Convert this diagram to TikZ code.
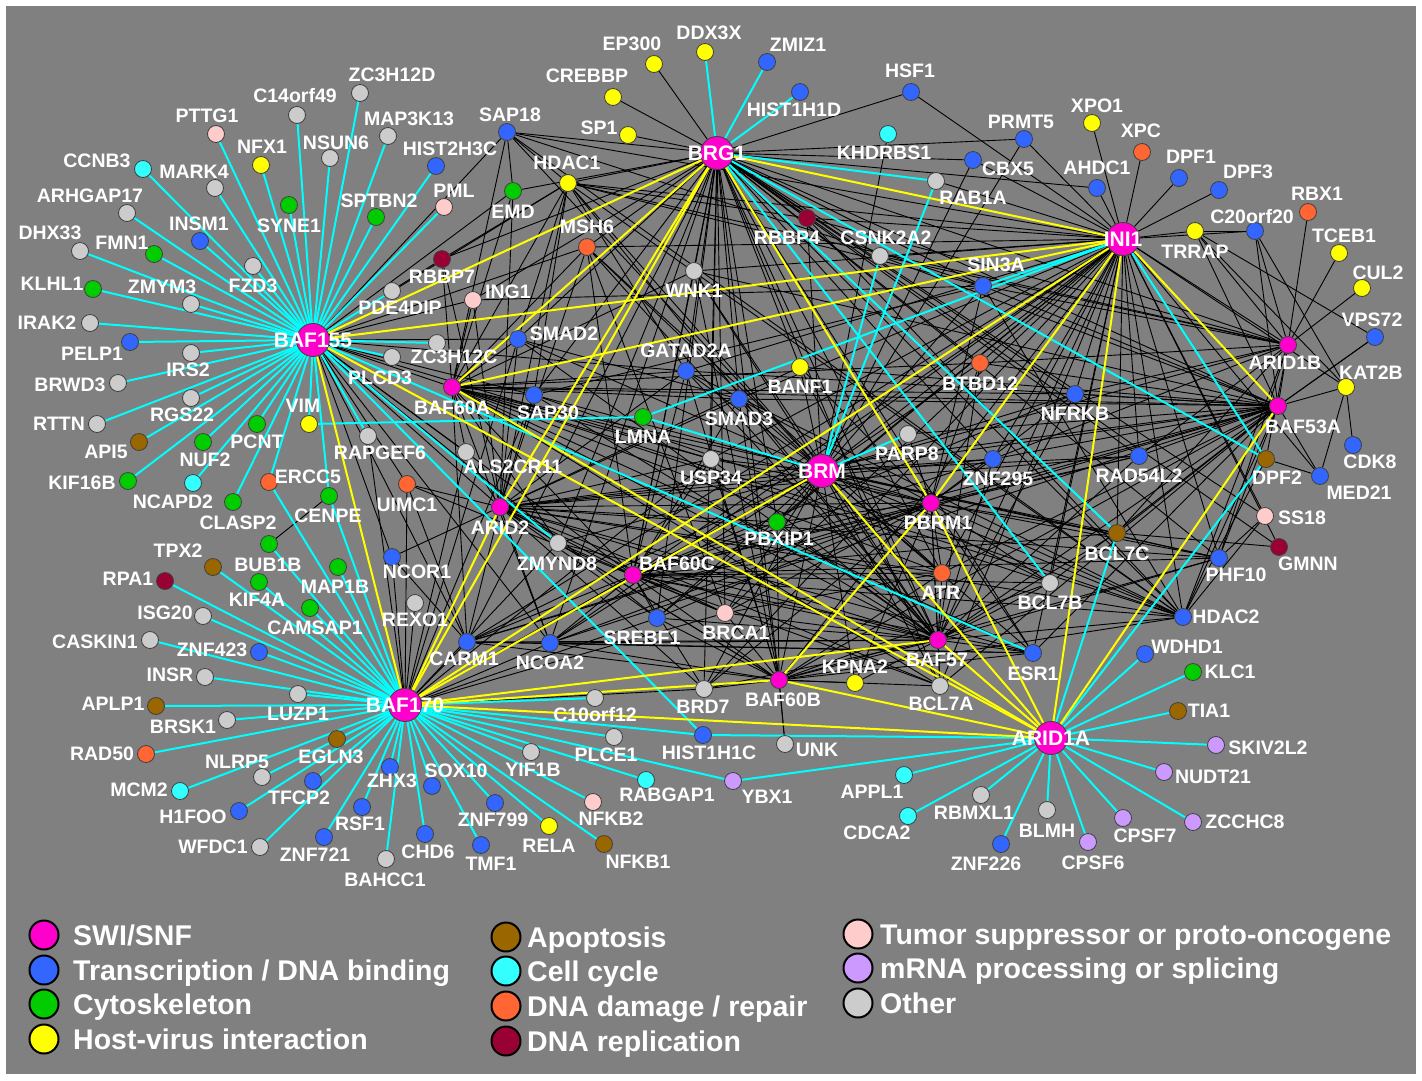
\documentclass[tikz,border=0pt]{standalone}
\usepackage{fontspec}
\setmainfont{Liberation Sans}
\definecolor{bggray}{RGB}{128,128,128}
\definecolor{cmag}{RGB}{255,0,204}
\definecolor{cblue}{RGB}{51,102,255}
\definecolor{cgreen}{RGB}{0,204,0}
\definecolor{cyel}{RGB}{255,255,0}
\definecolor{cbrown}{RGB}{153,102,0}
\definecolor{ccyan}{RGB}{51,255,255}
\definecolor{corange}{RGB}{255,102,51}
\definecolor{cdred}{RGB}{153,0,51}
\definecolor{cpink}{RGB}{255,204,204}
\definecolor{clav}{RGB}{204,153,255}
\definecolor{cgray}{RGB}{204,204,204}
\definecolor{ecyan}{RGB}{0,255,255}
\definecolor{eyel}{RGB}{255,255,0}
\pgfdeclarelayer{bg}
\pgfdeclarelayer{edges}
\pgfsetlayers{bg,edges,main}
\newcommand\gnode[6]{\node[nd,fill=#2] (#1) at (#3,#4) {};\node[lbl] (#1-l) at (#5,#6) {#1};}
\newcommand\mnode[5]{\node[nd,fill=cmag] (#1) at (#2,#3) {};\node[lbl] (#1-l) at (#4,#5) {#1};}
\newcommand\hnode[3]{\node[hubnd] (#1) at (#2,#3) {};\node[hublbl] (#1-l) at (#2,#3) {#1};}
\newcommand\legitem[6]{\node[lgc,fill=#1] (#2) at (#3,#4) {};\node[lgt] (#2-t) at (#5,#4+10) {#6};}
\newcommand\fan[3]{\foreach \t in {#3} {\draw[#1] (#2) -- (\t);}}
\begin{document}
\begin{tikzpicture}[x=1pt,y=-1pt,
  nd/.style={circle,draw=black!75,line width=0.8pt,minimum size=17pt,inner sep=0pt},
  hubnd/.style={circle,draw=black!75,line width=0.8pt,minimum size=33pt,inner sep=0pt,fill=cmag},
  lbl/.style={text=white,inner sep=0pt,font=\bfseries\fontsize{19.5}{20}\selectfont},
  hublbl/.style={text=white,inner sep=0pt,font=\bfseries\fontsize{21}{22}\selectfont},
  bk/.style={draw=black,line width=0.9pt},
  cy/.style={draw=ecyan,line width=2pt},
  yl/.style={draw=eyel,line width=2pt},
  lgc/.style={circle,draw=black,line width=2pt,minimum size=29pt,inner sep=0pt},
  lgt/.style={text=white,inner sep=0pt,anchor=base west,font=\bfseries\fontsize{28.5}{30}\selectfont}]
\useasboundingbox (0,0) rectangle (1422,1080);
\begin{pgfonlayer}{bg}
\fill[white] (0,0) rectangle (1422,1080);
\fill[bggray] (6,6) rectangle (1416,1074);
\end{pgfonlayer}
% hubs
\hnode{BRG1}{717}{153}
\hnode{INI1}{1123}{239}
\hnode{BAF155}{313}{340}
\hnode{BRM}{822}{471}
\hnode{BAF170}{405}{705}
\hnode{ARID1A}{1051}{738}
% small SWI/SNF
\mnode{ARID1B}{1288}{345}{1285}{363}
\mnode{BAF53A}{1278}{406}{1303}{427}
\mnode{BAF60A}{452}{387}{452}{408}
\mnode{BAF60B}{779}{680}{783}{700}
\mnode{BAF60C}{633}{575}{677}{564}
\mnode{BAF57}{938}{640}{937}{660}
\mnode{ARID2}{500}{507}{500}{528}
\mnode{PBRM1}{931}{503}{938}{523}
% left / BAF155 side
\gnode{ZC3H12D}{cgray}{360}{93}{392}{75}
\gnode{C14orf49}{cgray}{297}{115}{295}{96}
\gnode{PTTG1}{cpink}{216}{134}{207}{116}
\gnode{MAP3K13}{cgray}{388}{136}{409}{119}
\gnode{NFX1}{cyel}{261}{165}{262}{147}
\gnode{NSUN6}{cgray}{330}{158}{336}{143}
\gnode{HIST2H3C}{cblue}{436}{166}{450}{149}
\gnode{CCNB3}{ccyan}{143}{169}{97}{161}
\gnode{MARK4}{cgray}{215}{188}{194}{172}
\gnode{SYNE1}{cgreen}{289}{205}{289}{226}
\gnode{SPTBN2}{cgreen}{376}{217}{379}{201}
\gnode{PML}{cpink}{444}{207}{454}{191}
\gnode{ARHGAP17}{cgray}{127}{213}{90}{196}
\gnode{INSM1}{cblue}{200}{241}{199}{224}
\gnode{DHX33}{cgray}{80}{251}{50}{233}
\gnode{FMN1}{cgreen}{154}{254}{122}{243}
\gnode{FZD3}{cgray}{253}{266}{253}{286}
\gnode{RBBP7}{cdred}{442}{259}{442}{277}
\gnode{KLHL1}{cgreen}{93}{289}{52}{284}
\gnode{ZMYM3}{cgray}{191}{304}{162}{287}
\gnode{PDE4DIP}{cgray}{392}{291}{400}{308}
\gnode{IRAK2}{cgray}{90}{323}{47}{323}
\gnode{PELP1}{cblue}{130}{342}{92}{354}
\gnode{IRS2}{cgray}{191}{353}{188}{370}
\gnode{ZC3H12C}{cgray}{437}{343}{454}{357}
\gnode{PLCD3}{cgray}{392}{357}{380}{378}
\gnode{BRWD3}{cgray}{118}{383}{70}{385}
\gnode{RGS22}{cgray}{191}{398}{182}{415}
\gnode{VIM}{cyel}{309}{424}{303}{406}
\gnode{RTTN}{cgray}{97}{424}{59}{424}
\gnode{PCNT}{cgreen}{257}{424}{257}{442}
\gnode{RAPGEF6}{cgray}{368}{436}{380}{453}
\gnode{API5}{cbrown}{139}{442}{106}{452}
\gnode{NUF2}{cgreen}{203}{442}{205}{460}
\gnode{KIF16B}{cgreen}{128}{481}{82}{483}
\gnode{NCAPD2}{ccyan}{193}{483}{173}{502}
\gnode{ERCC5}{corange}{269}{482}{308}{477}
\gnode{CLASP2}{cgreen}{233}{502}{238}{523}
\gnode{CENPE}{cgreen}{329}{496}{328}{516}
\gnode{UIMC1}{corange}{407}{484}{407}{505}
\gnode{BUB1B}{cgreen}{269}{544}{268}{565}
\gnode{TPX2}{cbrown}{213}{567}{178}{551}
\gnode{RPA1}{cdred}{165}{581}{128}{579}
\gnode{MAP1B}{cgreen}{338}{567}{335}{587}
\gnode{KIF4A}{cgreen}{259}{582}{257}{600}
\gnode{NCOR1}{cblue}{392}{557}{417}{572}
\gnode{CAMSAP1}{cgreen}{310}{608}{315}{628}
\gnode{ISG20}{cgray}{203}{616}{165}{613}
\gnode{REXO1}{cgray}{415}{603}{415}{620}
\gnode{CASKIN1}{cgray}{150}{640}{95}{642}
\gnode{CARM1}{cblue}{467}{642}{464}{659}
\gnode{ZNF423}{cblue}{259}{652}{212}{650}
\gnode{INSR}{cgray}{205}{677}{170}{675}
\gnode{LUZP1}{cgray}{298}{694}{298}{714}
\gnode{APLP1}{cbrown}{156}{706}{113}{704}
\gnode{BRSK1}{cgray}{227}{720}{183}{727}
\gnode{EGLN3}{cbrown}{337}{739}{331}{757}
\gnode{RAD50}{corange}{146}{754}{102}{754}
\gnode{NLRP5}{cgray}{262}{777}{237}{762}
\gnode{ZHX3}{cblue}{390}{767}{392}{781}
\gnode{SOX10}{cblue}{432}{786}{456}{771}
\gnode{MCM2}{ccyan}{180}{791}{139}{790}
\gnode{TFCP2}{cblue}{313}{781}{299}{798}
\gnode{H1FOO}{cblue}{239}{811}{193}{817}
\gnode{RSF1}{cblue}{362}{807}{360}{824}
\gnode{WFDC1}{cgray}{260}{847}{213}{847}
\gnode{ZNF721}{cblue}{324}{837}{315}{855}
\gnode{CHD6}{cblue}{425}{834}{428}{852}
\gnode{BAHCC1}{cgray}{386}{859}{385}{880}
% top / middle
\gnode{EP300}{cyel}{654}{64}{632}{44}
\gnode{DDX3X}{cyel}{705}{52}{709}{33}
\gnode{ZMIZ1}{cblue}{767}{62}{798}{45}
\gnode{CREBBP}{cyel}{613}{97}{587}{76}
\gnode{HSF1}{cblue}{911}{92}{910}{71}
\gnode{HIST1H1D}{cblue}{800}{92}{794}{110}
\gnode{SAP18}{cblue}{507}{132}{510}{115}
\gnode{SP1}{cyel}{628}{135}{599}{128}
\gnode{KHDRBS1}{ccyan}{888}{134}{884}{153}
\gnode{HDAC1}{cyel}{568}{183}{567}{163}
\gnode{EMD}{cgreen}{513}{191}{513}{212}
\gnode{RAB1A}{cgray}{936}{181}{973}{198}
\gnode{RBBP4}{cdred}{807}{218}{787}{238}
\gnode{MSH6}{corange}{587}{247}{587}{227}
\gnode{CSNK2A2}{cgray}{880}{256}{886}{238}
\gnode{WNK1}{cgray}{694}{271}{694}{291}
\gnode{ING1}{cpink}{473}{300}{508}{292}
\gnode{SMAD2}{cblue}{518}{339}{564}{334}
\gnode{GATAD2A}{cblue}{686}{371}{686}{351}
\gnode{BANF1}{cyel}{800}{367}{800}{387}
\gnode{SAP30}{cblue}{534}{395}{548}{413}
\gnode{SMAD3}{cblue}{739}{399}{739}{419}
\gnode{LMNA}{cgreen}{643}{417}{643}{437}
\gnode{ALS2CR11}{cgray}{466}{452}{513}{467}
\gnode{USP34}{cgray}{711}{459}{711}{478}
\gnode{PARP8}{cgray}{908}{434}{907}{454}
\gnode{PBXIP1}{cgreen}{777}{522}{779}{539}
\gnode{ZMYND8}{cgray}{558}{543}{557}{564}
\gnode{ATR}{corange}{942}{573}{941}{593}
\gnode{SREBF1}{cblue}{657}{618}{642}{638}
\gnode{BRCA1}{cpink}{725}{613}{736}{633}
\gnode{NCOA2}{cblue}{550}{643}{550}{663}
\gnode{KPNA2}{cyel}{855}{683}{855}{667}
\gnode{BRD7}{cgray}{704}{689}{703}{707}
\gnode{BCL7A}{cgray}{940}{686}{941}{704}
\gnode{C10orf12}{cgray}{595}{698}{595}{715}
\gnode{HIST1H1C}{cblue}{703}{735}{709}{753}
\gnode{UNK}{cgray}{785}{744}{817}{750}
\gnode{PLCE1}{cgray}{614}{737}{606}{755}
\gnode{YIF1B}{cgray}{531}{752}{533}{770}
\gnode{RABGAP1}{ccyan}{646}{780}{667}{795}
\gnode{YBX1}{clav}{733}{781}{767}{797}
\gnode{APPL1}{ccyan}{904}{775}{872}{792}
\gnode{CDCA2}{ccyan}{908}{816}{877}{833}
\gnode{ZNF799}{cblue}{495}{803}{493}{820}
\gnode{NFKB2}{cpink}{593}{802}{611}{819}
\gnode{RELA}{cyel}{549}{826}{549}{846}
\gnode{TMF1}{cblue}{481}{845}{491}{864}
\gnode{NFKB1}{cbrown}{604}{844}{638}{862}
% right
\gnode{XPO1}{cyel}{1092}{123}{1097}{106}
\gnode{PRMT5}{cblue}{1024}{139}{1021}{122}
\gnode{XPC}{corange}{1142}{152}{1141}{131}
\gnode{CBX5}{cblue}{973}{160}{1008}{169}
\gnode{AHDC1}{cblue}{1097}{188}{1097}{168}
\gnode{DPF1}{cblue}{1179}{178}{1191}{157}
\gnode{DPF3}{cblue}{1219}{190}{1248}{172}
\gnode{RBX1}{corange}{1308}{212}{1317}{194}
\gnode{TRRAP}{cyel}{1195}{231}{1195}{252}
\gnode{C20orf20}{cblue}{1255}{231}{1252}{217}
\gnode{TCEB1}{cyel}{1339}{253}{1344}{236}
\gnode{CUL2}{cyel}{1362}{288}{1378}{273}
\gnode{SIN3A}{cblue}{983}{286}{996}{265}
\gnode{VPS72}{cblue}{1375}{337}{1372}{320}
\gnode{KAT2B}{cyel}{1346}{387}{1371}{373}
\gnode{BTBD12}{corange}{980}{363}{980}{384}
\gnode{NFRKB}{cblue}{1075}{394}{1075}{414}
\gnode{CDK8}{cblue}{1353}{445}{1370}{462}
\gnode{ZNF295}{cblue}{993}{459}{998}{479}
\gnode{RAD54L2}{cblue}{1139}{456}{1139}{476}
\gnode{DPF2}{cbrown}{1266}{459}{1277}{478}
\gnode{MED21}{cblue}{1320}{476}{1359}{493}
\gnode{SS18}{cpink}{1265}{516}{1302}{518}
\gnode{BCL7C}{cbrown}{1117}{533}{1117}{554}
\gnode{GMNN}{cdred}{1279}{547}{1308}{564}
\gnode{PHF10}{cblue}{1219}{558}{1236}{575}
\gnode{BCL7B}{cgray}{1050}{583}{1050}{603}
\gnode{HDAC2}{cblue}{1183}{617}{1226}{617}
\gnode{ESR1}{cblue}{1033}{653}{1033}{674}
\gnode{WDHD1}{cblue}{1145}{654}{1187}{647}
\gnode{KLC1}{cgreen}{1193}{672}{1230}{672}
\gnode{TIA1}{cbrown}{1178}{711}{1209}{711}
\gnode{SKIV2L2}{clav}{1216}{745}{1268}{748}
\gnode{NUDT21}{clav}{1164}{772}{1213}{777}
\gnode{RBMXL1}{cgray}{981}{795}{974}{813}
\gnode{BLMH}{cgray}{1047}{810}{1047}{831}
\gnode{CPSF7}{clav}{1123}{818}{1145}{836}
\gnode{ZCCHC8}{clav}{1193}{822}{1245}{822}
\gnode{ZNF226}{cblue}{1001}{844}{986}{864}
\gnode{CPSF6}{clav}{1088}{842}{1093}{863}
% legend
\legitem{cmag}{lgA}{44}{935}{73}{SWI/SNF}
\legitem{cblue}{lgB}{44}{970}{73}{Transcription / DNA binding}
\legitem{cgreen}{lgC}{44}{1004}{73}{Cytoskeleton}
\legitem{cyel}{lgD}{44}{1039}{73}{Host-virus interaction}
\legitem{cbrown}{lgE}{506}{937}{527}{Apoptosis}
\legitem{ccyan}{lgF}{506}{971}{527}{Cell cycle}
\legitem{corange}{lgG}{506}{1006}{527}{DNA damage / repair}
\legitem{cdred}{lgH}{506}{1041}{527}{DNA replication}
\legitem{cpink}{lgI}{858}{934}{880}{Tumor suppressor or proto-oncogene}
\legitem{clav}{lgJ}{858}{968}{880}{mRNA processing or splicing}
\legitem{cgray}{lgK}{858}{1003}{880}{Other}
% edges
\begin{pgfonlayer}{edges}
% black
\fan{bk}{BRG1}{EP300,CREBBP,SP1,HSF1,SAP18,HDAC1,EMD,MSH6,RBBP7,WNK1,GATAD2A,SMAD3,SMAD2,SAP30,BANF1,USP34,PBXIP1,SREBF1,BRCA1,BRD7,NCOA2,CARM1,ESR1,ATR,RBBP4,CSNK2A2,PRMT5,CBX5,SIN3A,HDAC2,NFRKB,ZNF295,RAD54L2,BTBD12,BCL7A,PHF10,ARID1B,BAF53A,BAF57,BAF60C,BAF60B,AHDC1,GMNN,SS18,ING1,ZMYND8}
\fan{bk}{INI1}{XPO1,XPC,DPF1,DPF3,AHDC1,PRMT5,CBX5,TRRAP,HSF1,SAP18,HDAC1,RBBP4,CSNK2A2,BTBD12,NFRKB,ZNF295,RAD54L2,HDAC2,PHF10,ESR1,BCL7A,BCL7B,BCL7C,ATR,SMAD3,GATAD2A,WNK1,MSH6,ARID1B,BAF57,BRM,BAF60C,BRD7,RAB1A,MED21,KAT2B,SS18,GMNN,SREBF1,BRCA1,CARM1,NCOA2,BAF60B,USP34,PBXIP1,C20orf20}
\fan{bk}{BRM}{SMAD3,BANF1,USP34,PBXIP1,GATAD2A,WNK1,RBBP4,BRCA1,SREBF1,ZNF295,ATR,ESR1,BCL7A,BCL7B,BCL7C,HDAC2,PHF10,RAD54L2,NFRKB,BTBD12,SIN3A,KPNA2,BRD7,NCOA2,CARM1,ZMYND8,MSH6,SAP30,SMAD2,BAF57,BAF60B,BAF60C,PBRM1,BAF53A,ARID2,ARID1B,HDAC1,SAP18,PRMT5,CBX5,KHDRBS1}
\fan{bk}{BAF57}{HDAC1,MSH6,SMAD2,SAP30,GATAD2A,WNK1,SMAD3,BANF1,USP34,PBXIP1,ZMYND8,SREBF1,BRCA1,NCOA2,CARM1,BRD7,KPNA2,BCL7A,ESR1,BCL7B,BCL7C,ATR,ZNF295,RAD54L2,HDAC2,PHF10,NFRKB,BTBD12,ARID2,BAF60A,BAF60C,PBRM1,BAF53A,BAF60B}
\fan{bk}{BAF53A}{SIN3A,BTBD12,NFRKB,ZNF295,RAD54L2,HDAC2,PHF10,ESR1,BCL7A,BCL7B,BCL7C,ATR,PBRM1,BANF1,SMAD3,GATAD2A,BAF60A,ARID2,CARM1,NCOA2,BAF60C,KAT2B,VPS72,MED21,TRRAP,C20orf20,PARP8,WNK1,CSNK2A2}
\fan{bk}{ARID2}{ALS2CR11,ZMYND8,NCOR1,UIMC1,CARM1,NCOA2,BAF60C,SREBF1,BRCA1,BRD7,USP34,SAP30,SMAD2,ING1,RBBP7,MSH6,HDAC1,EMD,GATAD2A,SMAD3,BANF1,PBXIP1,ESR1,BCL7A,ATR,BAF60B,PBRM1,ZNF295,RAD54L2,HDAC2,PHF10}
\fan{bk}{BAF60A}{RBBP7,ING1,MSH6,HDAC1,EMD,SAP18,SMAD2,SAP30,GATAD2A,WNK1,SMAD3,USP34,ALS2CR11,ZMYND8,CARM1,NCOA2,BAF60C,ATR,PBRM1,ESR1,BCL7A,BCL7B,HDAC2,PHF10,BTBD12,NFRKB}
\fan{bk}{BAF60B}{BRD7,KPNA2,UNK,SREBF1,BRCA1,BAF60C,ZMYND8,NCOA2,CARM1,USP34,PBXIP1,SMAD3,GATAD2A,WNK1,ATR,BCL7A,ESR1,BCL7B,HDAC2,PHF10,BAF53A}
\fan{bk}{BAF60C}{ZMYND8,NCOA2,CARM1,SREBF1,BRCA1,BRD7,USP34,PBXIP1,SMAD3,GATAD2A,WNK1,MSH6,ATR,ESR1,BCL7A,BCL7B,BCL7C,HDAC2,PHF10,RAD54L2,ZNF295,NFRKB,PBRM1}
\fan{bk}{PBRM1}{ATR,ESR1,BCL7A,BCL7B,BCL7C,HDAC2,PHF10,RAD54L2,ZNF295,NFRKB,BTBD12,SIN3A,BANF1,SMAD3,PARP8,USP34,PBXIP1,KPNA2,BRD7,BRCA1,SREBF1,NCOA2,CARM1}
\fan{bk}{ARID1B}{RBX1,TCEB1,CUL2,TRRAP,C20orf20,BAF53A,SIN3A,BTBD12,NFRKB,ZNF295,RAD54L2,PHF10,HDAC2,BCL7C,DPF2,CSNK2A2,RBBP4,HDAC1}
\fan{bk}{BAF170}{NCOR1,CARM1,NCOA2,ZMYND8,ALS2CR11,UIMC1,RAPGEF6,USP34,SREBF1,BRD7,BAF60C,BRCA1,SMAD2,SAP30,REXO1}
\fan{bk}{BAF155}{RBBP7,ING1,SMAD2,SAP30,BAF60A,ALS2CR11,ARID2,NCOR1,UIMC1,CARM1,NCOA2,USP34,SREBF1,BAF60C,GATAD2A,MSH6,HDAC1,EMD,SAP18}
\fan{bk}{HDAC1}{SIN3A,SAP30,SMAD2,RBBP4,RBBP7,GATAD2A,HDAC2,SAP18}
\fan{bk}{HDAC2}{SIN3A,SAP30,RBBP4,GATAD2A,SAP18,SS18,DPF2}
\fan{bk}{CARM1}{NCOA2,NCOR1,ESR1,UIMC1}
\fan{bk}{KAT2B}{CDK8,MED21,C20orf20,TRRAP}
\fan{bk}{MSH6}{BRCA1,ATR}
\draw[bk] (CENPE) -- (BUB1B);
\draw[bk] (BAF60B) -- (UNK);
\draw[bk] (SAP18) -- (EMD);
\draw[bk] (TRRAP) -- (C20orf20);
\draw[bk] (TRRAP) -- (VPS72);
\draw[bk] (VPS72) -- (BAF53A);
\draw[bk] (ESR1) -- (NCOA2);
\draw[bk] (SMAD2) -- (SMAD3);
\draw[bk] (BRCA1) -- (ATR);
\draw[bk] (ING1) -- (SIN3A);
\draw[bk] (SS18) -- (PHF10);
\draw[bk] (DPF2) -- (MED21);
\draw[bk] (UIMC1) -- (BRCA1);
\draw[bk] (SIN3A) -- (SAP30);
\draw[bk] (SIN3A) -- (SAP18);
\draw[bk] (GMNN) -- (BCL7C);
% cyan
\fan{cy}{BAF155}{ZC3H12D,C14orf49,PTTG1,MAP3K13,NFX1,NSUN6,HIST2H3C,CCNB3,MARK4,SYNE1,SPTBN2,PML,ARHGAP17,INSM1,DHX33,FMN1,FZD3,KLHL1,ZMYM3,IRAK2,PELP1,IRS2,BRWD3,RGS22,RTTN,API5,NUF2,PCNT,KIF16B,NCAPD2,CLASP2,VIM,ERCC5,CENPE,ZC3H12C,PLCD3,PDE4DIP,RAPGEF6,ZMYND8,ESR1,HIST1H1C}
\fan{cy}{BAF170}{RPA1,ISG20,CASKIN1,ZNF423,INSR,APLP1,LUZP1,BRSK1,RAD50,EGLN3,NLRP5,MCM2,TFCP2,H1FOO,WFDC1,ZHX3,RSF1,ZNF721,CHD6,BAHCC1,SOX10,TMF1,ZNF799,RELA,NFKB1,NFKB2,YIF1B,PLCE1,RABGAP1,HIST1H1C,C10orf12,TPX2,KIF4A,BUB1B,CAMSAP1,MAP1B,CENPE,ERCC5,YBX1}
\fan{cy}{ARID1A}{WDHD1,KLC1,TIA1,SKIV2L2,NUDT21,ZCCHC8,CPSF7,CPSF6,BLMH,ZNF226,RBMXL1,CDCA2,APPL1,YBX1,HIST1H1C,BCL7C,DPF2}
\fan{cy}{BRG1}{DDX3X,ZMIZ1,HIST1H1D,RAB1A,DPF2,BCL7B,BCL7C}
\fan{cy}{INI1}{LMNA,SIN3A,DPF2}
\fan{cy}{BRM}{PARP8,CSNK2A2,RAB1A,LMNA}
\draw[cy] (VIM) -- (LMNA);
% yellow
\fan{yl}{BAF155}{BRG1,INI1,BAF170,ARID1A}
\fan{yl}{BRG1}{BAF170,INI1,ARID2,PBRM1,BAF60A}
\fan{yl}{BAF170}{INI1,ARID1A,BAF57,BAF60B,BRM,ARID2}
\fan{yl}{ARID1A}{BAF60A,BAF60B,BRM,INI1,BAF53A,BAF57,PBRM1}
\fan{yl}{INI1}{BAF60A,PBRM1,BAF53A}
\draw[yl] (BAF60B) -- (PBRM1);
\end{pgfonlayer}
\end{tikzpicture}
\end{document}
